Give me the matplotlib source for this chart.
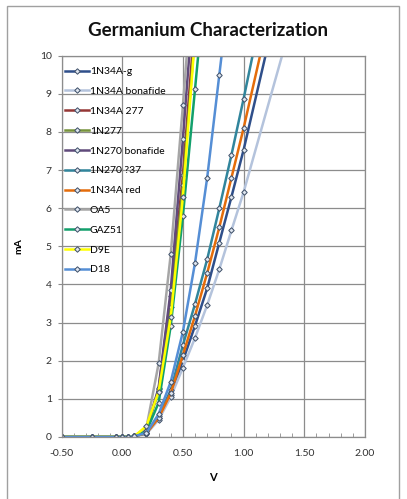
import matplotlib.pyplot as plt
from matplotlib.patches import Rectangle
from matplotlib.ticker import MultipleLocator, FormatStrFormatter

# --- DATA ---
# voltage steps measured (V); the slow diodes have one extra point off the top of the chart
V = [-0.5, -0.25, -0.05, 0.0, 0.05, 0.1, 0.2, 0.3, 0.4, 0.5, 0.6, 0.7, 0.8, 0.9, 1.0]

n34a_g_v = V + [1.2]
n34a_g = [0, 0, 0, 0, 0, 0.02, 0.1, 0.5, 1.1, 2.0, 2.92, 3.9, 5.1, 6.3, 7.53, 10.27]
n34a_bonafide_v = V + [1.5]
n34a_bonafide = [0, 0, 0, 0, 0, 0.02, 0.08, 0.45, 1.05, 1.82, 2.6, 3.46, 4.4, 5.42, 6.42, 12.07]
n34a_277 = [0, 0, 0, 0, 0, 0.02, 0.2, 1.25, 3.7, 6.87, 11.0]
n277 = [0, 0, 0, 0, 0, 0.02, 0.22, 1.2, 3.4, 6.6, 10.6]
n270_bonafide = [0, 0, 0, 0, 0, 0.02, 0.2, 1.29, 3.86, 7.82, 12.0]
n270_37_v = V + [1.1]
n270_37 = [0, 0, 0, 0, 0, 0.02, 0.1, 0.55, 1.23, 2.41, 3.49, 4.66, 6.0, 7.4, 8.87, 10.4]
n34a_red_v = V + [1.2]
n34a_red = [0, 0, 0, 0, 0, 0.02, 0.1, 0.5, 1.15, 2.15, 3.18, 4.3, 5.5, 6.8, 8.1, 10.9]
oa5 = [0, 0, 0, 0, 0, 0.02, 0.25, 1.93, 4.8, 8.7, 12.8]
gaz51 = [0, 0, 0, 0, 0, 0.02, 0.15, 0.9, 2.92, 5.8, 9.13, 12.5]
d9e = [0, 0, 0, 0, 0, 0.02, 0.29, 1.19, 3.15, 6.3, 10.5]
d18 = [0, 0, 0, 0, 0, 0.02, 0.11, 0.6, 1.45, 2.76, 4.57, 6.8, 9.5, 12.2]

LABELS = ["1N34A-g", "1N34A bonafide", "1N34A 277", "1N277", "1N270 bonafide",
          "1N270 ?37", "1N34A red", "OA5", "GAZ51", "D9E", "D18"]
XS = [n34a_g_v, n34a_bonafide_v, V, V, V, n270_37_v, n34a_red_v, V, V, V, V]
SERIES = [n34a_g, n34a_bonafide, n34a_277, n277, n270_bonafide,
          n270_37, n34a_red, oa5, gaz51, d9e, d18]
COLORS = ['#2F4F8A', '#B4C3DC', '#953735', '#77933C', '#604A7B',
          '#31859C', '#E46C0A', '#A6A6A6', '#12A06C', '#FFFF00', '#558ED5']

plt.rcParams['font.family'] = ['Lato', 'DejaVu Sans']

fig = plt.figure(figsize=(4.07, 4.99), dpi=100)
ax = fig.add_axes([61.5 / 407, 1 - 437 / 499, (365 - 61.5) / 407, (437 - 55.7) / 499])

for x, y, lab, col in zip(XS, SERIES, LABELS, COLORS):
    ax.plot(x[:len(y)], y, color=col, lw=1.8, label=lab,
            marker='D', markersize=2.8, markerfacecolor='#dde4ee',
            markeredgecolor='#3c4d66', markeredgewidth=0.7)

ax.set_xlim(-0.5, 2.0)
ax.set_ylim(0, 10)
ax.xaxis.set_major_locator(MultipleLocator(0.5))
ax.xaxis.set_minor_locator(MultipleLocator(0.1))
ax.yaxis.set_major_locator(MultipleLocator(1))
ax.xaxis.set_major_formatter(FormatStrFormatter('%.2f'))
ax.grid(True, which='major', color='#8c8c8c', lw=0.9)
ax.set_axisbelow(True)
for s in ax.spines.values():
    s.set_color('#8c8c8c')
    s.set_linewidth(0.9)
ax.tick_params(axis='x', which='major', length=0, labelsize=7.5, pad=9)
ax.tick_params(axis='x', which='minor', direction='in', length=3, color='#8c8c8c')
ax.tick_params(axis='y', which='major', length=3, color='#8c8c8c', labelsize=7.5, pad=4)
for t in ax.get_xticklabels() + ax.get_yticklabels():
    t.set_color('#303030')

ax.set_xlabel('V', fontsize=8, fontweight='bold', labelpad=10)
ax.set_ylabel('mA', fontsize=7.5, fontweight='bold', labelpad=12)

fig.text(208 / 407, 1 - 30 / 499, 'Germanium Characterization', ha='center', va='center',
         fontsize=13.5, fontweight='bold', color='#111111')

ax.legend(loc='upper left', bbox_to_anchor=(65 / 407, 1 - 67 / 499), bbox_transform=fig.transFigure,
          frameon=False, fontsize=7.5, handlelength=2.3, handletextpad=0.1,
          labelspacing=1.01, borderpad=0, borderaxespad=0)

fig.add_artist(Rectangle((7 / 407, -0.02), 392 / 407, 1.02 - 6 / 499, transform=fig.transFigure,
                         fill=False, edgecolor='#a0a0a0', lw=1))

fig.savefig('out.png', dpi=100)
